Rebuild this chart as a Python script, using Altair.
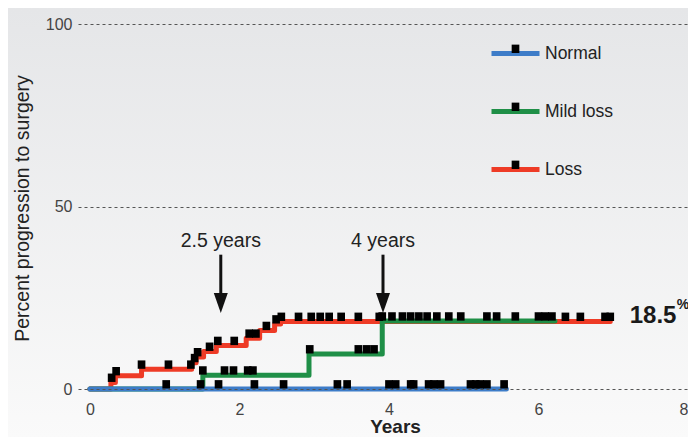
import altair as alt
import pandas as pd

# ---------------- data ----------------
series_names = ["Normal", "Mild loss", "Loss"]
series_colors = ["#3d7cc8", "#1f8f47", "#ee3b26"]

normal_t = [0.0, 5.57]
normal_v = [0.0, 0.0]

mild_t = [0.0, 1.51, 2.93, 3.91, 6.22]
mild_v = [0.0, 3.8, 9.6, 18.6, 18.6]

loss_t = [0.0, 0.28, 0.34, 0.69, 1.36, 1.42, 1.52, 1.69, 2.09, 2.27, 2.47, 2.55, 6.96]
loss_v = [0.0, 1.8, 3.6, 5.4, 7.2, 8.8, 10.3, 11.9, 13.9, 16.0, 17.8, 18.5, 18.5]

normal_cens = [1.02, 1.48, 1.72, 2.20, 2.59, 3.31, 3.44, 4.00, 4.09, 4.29, 4.33,
               4.53, 4.60, 4.69, 5.09, 5.16, 5.22, 5.31, 5.54]
mild_cens = [1.51, 1.80, 1.92, 2.11, 2.18, 2.94, 3.59, 3.70, 3.80, 3.91, 4.04,
             4.18, 4.29, 4.40, 4.51, 4.64, 4.80, 4.96, 5.31, 5.44, 5.69, 6.00,
             6.09, 6.18]
loss_cens = [0.29, 0.35, 0.69, 1.05, 1.35, 1.40, 1.44, 1.60, 1.71, 1.93, 2.13,
             2.22, 2.36, 2.49, 2.56, 2.79, 2.96, 3.08, 3.20, 3.36, 3.59, 3.87,
             6.36, 6.56, 6.89, 6.96]

annot_text = ["2.5 years", "4 years"]
annot_x = [1.75, 3.92]
final_label = "18.5"

# ---------------- tables ----------------
steps = {
    "Normal": (normal_t, normal_v),
    "Mild loss": (mild_t, mild_v),
    "Loss": (loss_t, loss_v),
}
cens = {"Normal": normal_cens, "Mild loss": mild_cens, "Loss": loss_cens}
keys = {"Normal": "n", "Mild loss": "m", "Loss": "l"}


def step_value(ts, vs, t):
    val = vs[0]
    for ti, vi in zip(ts, vs):
        if ti <= t + 1e-9:
            val = vi
    return val


line_frames = {
    s: pd.DataFrame({"t": steps[s][0], "v": steps[s][1], "series": s})
    for s in series_names
}
mark_rows = []
for s in series_names:
    for t in cens[s]:
        mark_rows.append({"t": t, "v": step_value(*steps[s], t), "key": keys[s]})
marks_df = pd.DataFrame(mark_rows)
annot_df = pd.DataFrame({"text": annot_text, "t": annot_x})

FONT = "Liberation Sans, Arial, Helvetica, sans-serif"
W, H = 610, 365
PAD_L = 70

xscale = alt.Scale(domain=[-0.16, 8.0], nice=False, zero=False)
yscale = alt.Scale(domain=[0, 100], nice=False)

x_axis = alt.Axis(values=[0, 2, 4, 6, 8], format="d", grid=False, domain=False,
                  ticks=False, labelFont=FONT, labelFontSize=16,
                  labelColor="#444", labelPadding=12, labelFlush=True,
                  title="Years", titleFont=FONT, titleFontSize=19,
                  titleFontWeight="bold", titleColor="#222", titleX=317,
                  titleAlign="center", titleY=37, titleBaseline="middle",
                  zindex=1)
y_axis = alt.Axis(values=[0, 50, 100], format="d", grid=True, gridDash=[3, 3],
                  gridColor="#555", gridWidth=1, domain=False, ticks=False,
                  labelFont=FONT, labelFontSize=16, labelColor="#444",
                  labelPadding=6, title="Percent progression to surgery",
                  titleFont=FONT, titleFontSize=19.5, titleFontWeight="normal",
                  titleColor="#222", titleX=-56, titleY=184, titleAngle=-90,
                  titleAlign="center", titleBaseline="middle", zindex=1)

X = alt.X("t:Q", scale=xscale, axis=x_axis)
Y = alt.Y("v:Q", scale=yscale, axis=y_axis)

color_scale = alt.Scale(domain=series_names, range=series_colors)
color_legend = alt.Legend(orient="none", legendX=411, legendY=3, title=None,
                          symbolType="stroke", symbolSize=2304,
                          symbolStrokeWidth=5, labelFont=FONT,
                          labelFontSize=17.5, labelColor="#222", labelOffset=3,
                          rowPadding=21, padding=0)

MARK_PATH = "M-0.16,-0.37 L0.16,-0.37 L0.16,-0.02 L-0.16,-0.02 Z"
shape_scale = alt.Scale(domain=["n", "m", "l"], range=[MARK_PATH] * 3)
shape_legend = alt.Legend(orient="none", legendX=411, legendY=3, title=None,
                          symbolSize=2304, symbolFillColor="black",
                          symbolStrokeColor="transparent", symbolStrokeWidth=5,
                          symbolOpacity=1, labelFont=FONT, labelFontSize=17.5,
                          labelColor="transparent", labelOffset=3,
                          rowPadding=21, padding=0)

# background gradient
bg = alt.Chart(pd.DataFrame({"a": [0]})).mark_rect(
    color=alt.Gradient(gradient="linear",
                       stops=[alt.GradientStop(color="#e5e6e8", offset=0),
                              alt.GradientStop(color="#fafafa", offset=1)],
                       x1=0, x2=0, y1=0, y2=1)
).encode(x=alt.value(-PAD_L), x2=alt.value(W), y=alt.value(-16), y2=alt.value(H + 50))

axes = alt.Chart(pd.DataFrame({"t": [0.0], "v": [0.0]})).mark_point(opacity=0).encode(
    x=X, y=Y)


def line_layer(s):
    return alt.Chart(line_frames[s]).mark_line(
        interpolate="step-after", strokeWidth=5, strokeCap="round",
        strokeJoin="round"
    ).encode(
        x=X, y=Y,
        color=alt.Color("series:N", scale=color_scale, legend=color_legend),
    )


lines = [line_layer("Loss"), line_layer("Mild loss"), line_layer("Normal")]

marks = alt.Chart(marks_df).mark_point(filled=True, size=2304, color="black",
                                       opacity=1, strokeWidth=0).encode(
    x=X, y=Y,
    shape=alt.Shape("key:N", scale=shape_scale, legend=shape_legend),
)

annot_base = alt.Chart(annot_df)
annot_txt = annot_base.mark_text(font=FONT, fontSize=19.5, color="#222",
                                 baseline="alphabetic", align="center").encode(
    x=X, y=alt.datum(39.0), text="text:N")
annot_shaft = annot_base.mark_rule(strokeWidth=3, color="#111").encode(
    x=X, y=alt.datum(36.8), y2=alt.datum(25.0))
annot_head = annot_base.mark_point(
    shape="M-0.7,-2 L0.7,-2 L0,0 Z", size=400, filled=True, color="#111",
    opacity=1, strokeWidth=0).encode(
    x=X, y=alt.datum(20.8))

final_txt = alt.Chart(pd.DataFrame({"text": [final_label]})).mark_text(
    font=FONT, fontSize=24, fontWeight="bold", color="#1a1a1a",
    align="left", baseline="alphabetic").encode(
    x=alt.datum(7.22), y=alt.datum(18.0), text="text:N")
pct_txt = alt.Chart(pd.DataFrame({"text": ["%"]})).mark_text(
    font=FONT, fontSize=14, fontWeight="bold", color="#1a1a1a",
    align="left", baseline="alphabetic", dx=47).encode(
    x=alt.datum(7.22), y=alt.datum(21.8), text="text:N")

chart = alt.layer(
    bg, axes, *lines, marks, annot_txt, annot_shaft, annot_head, final_txt, pct_txt
).resolve_scale(shape="independent").properties(
    width=W, height=H,
    autosize=alt.AutoSizeParams(type="none"),
    padding={"left": PAD_L, "top": 16, "right": 0, "bottom": 48},
    background="#fafafa",
).configure_view(stroke=None)

chart.save("out.html", embed_options={"renderer": "svg", "actions": False})
